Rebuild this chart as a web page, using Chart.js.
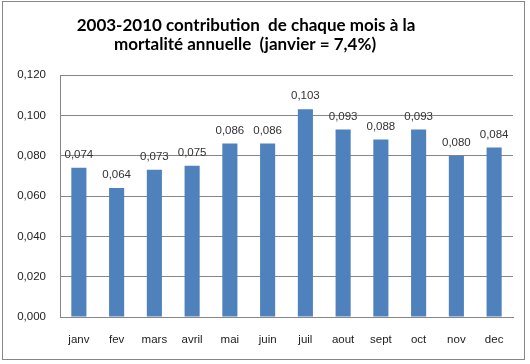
<!DOCTYPE html>
<html><head><meta charset="utf-8">
<script src="https://cdn.jsdelivr.net/npm/chart.js@4"></script>
<style>
html,body{margin:0;padding:0;background:#fff;}
#wrap{position:relative;width:530px;height:364px;}
#frame{position:absolute;left:2px;top:1px;width:523px;height:359px;border:1px solid #868686;box-sizing:border-box;pointer-events:none;}
canvas{position:absolute;left:0;top:0;}
</style></head>
<body>
<div id="wrap"><canvas id="c" width="530" height="364"></canvas><div id="frame"></div></div>
<script>
const titleLines = ["2003-2010 contribution  de chaque mois à la", "mortalité annuelle  (janvier = 7,4%)"];
const categories = ["janv","fev","mars","avril","mai","juin","juil","aout","sept","oct","nov","dec"];
const values = [0.074,0.064,0.073,0.075,0.086,0.086,0.103,0.093,0.088,0.093,0.080,0.084];
const yTicks = [0,0.02,0.04,0.06,0.08,0.10,0.12];

const fmt = v => v.toFixed(3).replace('.', ',');
const smallFont = {family: "'Liberation Sans', Arial, sans-serif", size: 11.5};

const titlePlugin = {
  id: 'titleText',
  afterDraw(chart) {
    const ctx = chart.ctx;
    ctx.save();
    ctx.font = "bold 17px Lato, 'Open Sans', sans-serif";
    ctx.fillStyle = '#000';
    ctx.textAlign = 'center';
    ctx.textBaseline = 'middle';
    ctx.fillText(titleLines[0], 246, 26);
    ctx.fillText(titleLines[1], 245, 45);
    ctx.restore();
  }
};
const labelPlugin = {
  id: 'barLabels',
  afterDatasetsDraw(chart) {
    const ctx = chart.ctx;
    const meta = chart.getDatasetMeta(0);
    ctx.save();
    ctx.font = "11.5px 'Liberation Sans', Arial, sans-serif";
    ctx.fillStyle = '#333';
    ctx.textAlign = 'center';
    ctx.textBaseline = 'middle';
    meta.data.forEach((bar, i) => {
      ctx.fillText(fmt(values[i]), bar.x, bar.y - 13);
    });
    ctx.restore();
  }
};

new Chart(document.getElementById('c'), {
  type: 'bar',
  data: {
    labels: categories,
    datasets: [{
      data: values,
      backgroundColor: '#4F81BD',
      categoryPercentage: 1,
      barPercentage: 0.4
    }]
  },
  options: {
    responsive: false,
    animation: false,
    devicePixelRatio: 1,
    layout: {padding: {left: 0, right: 17, top: 75, bottom: 0}},
    plugins: {legend: {display: false}, title: {display: false}, tooltip: {enabled: false}},
    scales: {
      x: {
        grid: {display: false, drawTicks: false},
        border: {display: true, color: '#868686', width: 1},
        ticks: {font: smallFont, color: '#222', padding: 16, maxRotation: 0},
        afterFit(s) { s.height = 47; }
      },
      y: {
        min: 0, max: 0.12,
        afterBuildTicks(s) { s.ticks = yTicks.map(v => ({value: v})); },
        grid: {color: '#868686', drawTicks: false},
        border: {display: true, color: '#868686', width: 1},
        ticks: {font: smallFont, color: '#222', padding: 14, callback: v => fmt(v)},
        afterFit(s) { s.width = 60; }
      }
    }
  },
  plugins: [titlePlugin, labelPlugin]
});
</script>
</body></html>
